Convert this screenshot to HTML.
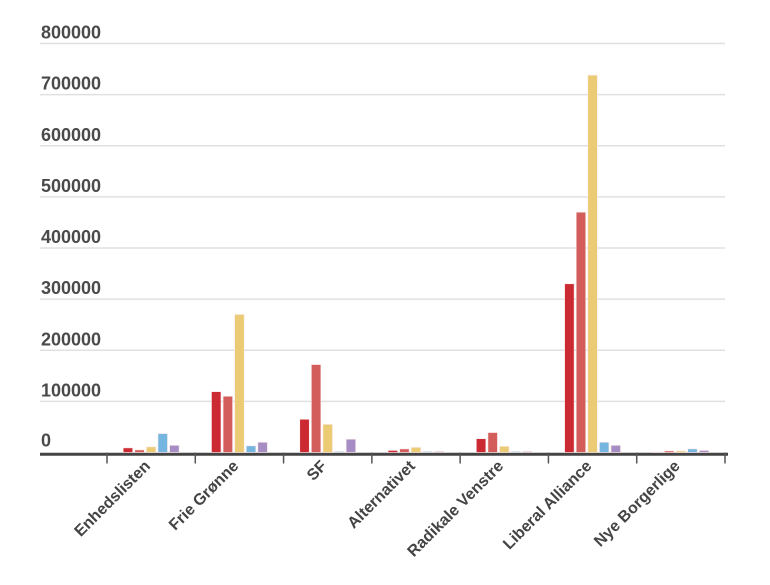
<!DOCTYPE html>
<html><head><meta charset="utf-8"><style>
body{margin:0;background:#fff;}
svg{display:block;font-family:"Liberation Sans",sans-serif;}
</style></head><body>
<svg id="chart" width="770" height="585" viewBox="0 0 770 585"></svg>
<script>
const categories=["Enhedslisten","Frie Grønne","SF","Alternativet","Radikale Venstre","Liberal Alliance","Nye Borgerlige"];
const series1=[9000,119000,65000,4000,27000,330000,1000];
const series2=[5000,110000,172000,7000,39000,470000,3000];
const series3=[11000,270000,55000,10000,12000,738000,3000];
const series4=[37000,13000,2000,2000,2000,20000,7000];
const series5=[14000,20000,26000,2000,2000,14000,4000];
const yTicks=[0,100000,200000,300000,400000,500000,600000,700000,800000];
const seriesList=[series1,series2,series3,series4,series5];
const colors=["#cc2a33","#d35d5b","#ebcb74","#75b6e0","#a68ec4"];
const svg=document.getElementById('chart');
const NS="http://www.w3.org/2000/svg";
const x0=107,x1=725,y0=452.5,yTop=43.5,yMax=800000;
const yScale=v=>y0-(v/yMax)*(y0-yTop);
const bw=(x1-x0)/categories.length;
const xCenter=i=>x0+bw*(i+0.5);
function mk(t,a){const e=document.createElementNS(NS,t);for(const k in a)e.setAttribute(k,a[k]);svg.appendChild(e);return e;}
yTicks.forEach((v,i)=>{
  const y=yScale(v);
  if(v>0){const l=mk('line',{x1:40,x2:725,y1:y,y2:y,stroke:'#e0e0e0','stroke-width':1.5});
  
  }
  const t=mk('text',{x:41,y:(v>0?y-5:y-6),'font-size':18,'font-weight':'bold',fill:'#4a4a4a'});
  t.textContent=v;
  
  
});
const ax=mk('line',{x1:40,x2:728,y1:y0+1.8,y2:y0+1.8,stroke:'#444','stroke-width':3});


const pitch=11.6,barW=9.5;
categories.forEach((c,i)=>{
  const cx=xCenter(i);
  seriesList.forEach((s,j)=>{
    const bx=cx+(j-2.5)*pitch+(pitch-barW)/2;
    const y=yScale(s[i]);
    const r=mk('rect',{x:bx,y:y,width:barW,height:Math.max(0,y0-y),fill:colors[j],stroke:'#fbe9e9','stroke-width':0.6});
    
    
  });
  const t=mk('text',{x:cx,y:467,'font-size':16,'font-weight':'bold',fill:'#444','text-anchor':'end',transform:`rotate(-45 ${cx} 467)`});
  t.textContent=c;
  
  
});
for(let i=0;i<=categories.length;i++){
  const x=x0+bw*i;
  const tk=mk('line',{x1:x,x2:x,y1:y0,y2:y0+11,stroke:'#555','stroke-width':1.5});
  
  
}
</script>
</body></html>
